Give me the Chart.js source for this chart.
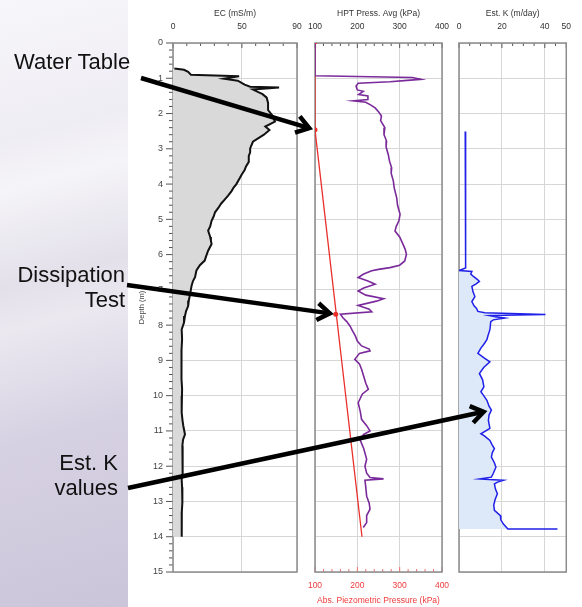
<!DOCTYPE html>
<html>
<head>
<meta charset="utf-8">
<script src="https://cdn.jsdelivr.net/npm/chart.js@4.4.1/dist/chart.umd.min.js"></script>
<style>
  html, body { margin: 0; padding: 0; }
  body { width: 582px; height: 607px; position: relative; overflow: hidden; background: #fff;
         font-family: "Liberation Sans", Arial, sans-serif; }
  #slide { position: absolute; left: 0; top: 0; width: 128px; height: 607px;
           background: linear-gradient(165deg, #f7f6fa 0%, #efedf4 22%, #f5f4f8 30%, #e3e0ea 45%, #ebe8f0 52%, #d6d1e2 70%, #cbc5da 100%); }
  canvas { position: absolute; left: 0; top: 0; }
  .note { position: absolute; font-size: 22px; line-height: 25px; color: #111; text-align: right; white-space: nowrap; }
</style>
</head>
<body>
<div id="slide"></div>
<canvas id="ec" width="582" height="607"></canvas>
<canvas id="hpt" width="582" height="607"></canvas>
<canvas id="k" width="582" height="607"></canvas>
<canvas id="arrows" width="582" height="607"></canvas>
<div class="note" style="left:14px; top:49px;">Water Table</div>
<div class="note" style="right:457px; top:262px;">Dissipation<br>Test</div>
<div class="note" style="right:464px; top:450px;">Est. K<br>values</div>
<script>
// electrical conductivity log
const ecDepth = [0.72,0.76,0.82,0.90,0.94,1.01,1.07,1.18,1.24,1.26,1.32,1.45,1.55,1.70,1.90,2.05,2.23,2.37,2.47,2.60,
  2.80,2.99,3.10,3.20,3.37,3.50,3.60,3.72,3.83,4.00,4.10,4.20,4.33,4.44,4.55,4.67,4.80,4.92,5.04,5.20,
  5.32,5.50,5.60,5.70,5.89,6.05,6.17,6.30,6.45,6.64,6.75,6.88,7.10,7.30,7.46,7.60,7.74,7.93,8.12,8.40,
  8.70,9.00,9.30,9.53,9.80,10.00,10.25,10.48,10.70,10.86,11.10,11.25,11.42,11.70,11.99,12.20,12.37,12.60,13.03,13.30,
  13.50,13.75,14.00]
const ecValue = [1,8,11,13,48,37,47,52,56,77,58,65,68,69,69,72,74,67,70,66,
  58,56,56,55,55,53,52,50,48.5,46,44,42.5,40,37.5,35,33,30.5,29.5,28,27,
  25.5,27,27.5,28,25.5,24,23,19.5,17,16,14.5,13.5,12.5,11.5,11,9.5,8.7,8,6.3,6.6,
  6.2,6.3,6.0,6.2,6.6,6.5,6.3,6.3,6.9,7.5,8.7,7.3,6.8,7.0,7.2,6.8,6.3,6.6,6.8,6.4,
  6.2,6.5,6.3]

// HPT pressure log
const hptDepth = [0.02,0.93,0.98,1.03,1.06,1.10,1.14,1.22,1.33,1.37,1.46,1.50,1.60,1.64,1.68,1.76,1.84,1.95,2.07,2.20,
  2.40,2.60,2.78,2.95,3.16,3.35,3.54,3.70,3.91,4.10,4.39,4.60,4.86,5.05,5.20,5.33,5.50,5.71,5.85,5.99,
  6.18,6.30,6.37,6.42,6.46,6.55,6.65,6.75,6.84,6.95,7.03,7.15,7.25,7.32,7.44,7.55,7.62,7.69,7.79,7.90,
  8.03,8.15,8.30,8.45,8.59,8.68,8.73,8.80,8.97,9.10,9.25,9.45,9.65,9.82,9.95,10.20,10.45,10.67,10.85,11.00,
  11.10,11.24,11.50,11.80,12.00,12.20,12.32,12.36,12.40,12.60,12.85,13.05,13.22,13.40,13.60,13.74]
const hptPress = [100,100,330,350,318,277,202,197,200,214,203,225,225,190,220,232,242,250,257,255,
  265,263,269,268,273,276,281,280,285,287,293,295,301,298,292,289,300,308,313,316,
  312,300,277,250,234,215,202,225,242,215,202,220,262,245,202,228,234,160,166,175,
  183,188,195,200,210,228,230,205,194,205,210,215,220,226,212,202,207,210,222,230,
  215,206,215,222,218,222,230,262,218,220,222,228,230,222,222,214]

// absolute piezometric pressure (hydrostatic line) and its two fixed points
const piezoDepth = [0.0, 0.03, 2.46, 14.0]
const piezoPress = [104, 100, 100, 211]
const markDepth = [2.46, 7.69]
const markPress = [100, 149]

// estimated hydraulic conductivity
const kUpperDepth = [2.51,3.00,3.50,4.00,4.45,5.00,5.50,6.00,6.38,6.45]
const kUpperValue = [2.9,3.0,3.1,3.0,3.2,3.1,3.0,3.1,3.2,0]
const kLowerDepth = [6.45,6.48,6.55,6.62,6.70,6.76,6.83,6.90,7.05,7.19,7.33,7.45,7.52,7.61,7.65,7.70,7.73,7.76,7.80,7.85,
  7.90,8.13,8.30,8.41,8.55,8.65,8.80,8.92,9.04,9.20,9.37,9.55,9.75,9.89,10.00,10.13,10.30,10.41,10.55,10.70,
  10.93,11.08,11.15,11.27,11.40,11.50,11.62,11.74,11.90,12.03,12.20,12.31,12.36,12.38,12.40,12.45,12.50,12.65,12.78,12.95,
  13.10,13.25,13.40,13.52,13.64,13.78,13.78]
const kLowerValue = [0,6,5.5,6.7,8.5,9.5,8,6,6.5,7.4,6,7,8.1,8.8,12,40.3,14.4,17,21.4,16,
  14.8,14.4,13.5,13,11.5,10.2,8.8,11.5,14.4,11.5,9.5,11,11.6,10.2,11.5,13,14,15.1,14,13.7,
  14.4,10.2,12,14.4,15.5,16.5,15.5,15.1,16.5,17.2,16,15.1,9.5,14,20.7,18,16.5,17,17.9,16.8,
  16.2,16.5,19.3,19.5,20.7,22.8,45.9]

const ecTicks = [0, 50, 90]
const hptTicks = [100, 200, 300, 400]
const kTicks = [0, 20, 40, 50]

const pts = (d, v) => d.map((y, i) => ({ x: v[i], y }))

Chart.defaults.font.family = '"Liberation Sans", Arial, sans-serif'

// frame around each plot plus the short tick marks along its edges
const axisFrame = {
  id: 'axisFrame',
  beforeDatasetsDraw(chart, args, opts) {
    const { ctx, chartArea: a } = chart
    ctx.save()
    ctx.lineWidth = 1
    for (const m of opts.marks) {
      const s = chart.scales[m.scale]
      ctx.strokeStyle = m.color
      for (let k = 0; s.min + k * m.step <= s.max + 1e-9; k++) {
        const v = s.min + k * m.step
        const len = m.major.some(t => Math.abs(t - v) < 1e-6) ? m.long : m.short
        const p = s.getPixelForValue(v)
        ctx.beginPath()
        if (m.side === 'left') { ctx.moveTo(a.left - len, p); ctx.lineTo(a.left, p) }
        else if (m.side === 'top') { ctx.moveTo(p, a.top); ctx.lineTo(p, a.top + len) }
        else { ctx.moveTo(p, a.bottom); ctx.lineTo(p, a.bottom - len) }
        ctx.stroke()
      }
    }
    ctx.strokeStyle = '#8c8c8c'
    ctx.lineWidth = 1.5
    ctx.strokeRect(a.left, a.top, a.right - a.left, a.bottom - a.top)
    ctx.restore()
  }
}

function depthScale(labelled) {
  return {
    type: 'linear', position: 'left', reverse: true, min: 0, max: 15,
    ticks: { display: labelled, stepSize: 1, padding: 10, color: '#444', font: { size: 9 }, autoSkip: false },
    grid: { color: '#d6d6d6', drawTicks: false },
    border: { display: false },
    title: { display: labelled, text: 'Depth (m)', color: '#444', font: { size: 7.5 }, padding: 9 },
    afterFit: s => { s.width = labelled ? 45 : 0 }
  }
}

function valueScale(pos, min, max, ticks, title, color, grid) {
  return {
    type: 'linear', position: pos, min, max,
    afterBuildTicks: s => { s.ticks = ticks.map(v => ({ value: v })) },
    ticks: { padding: pos === 'top' ? 11 : 9, color, font: { size: 8.5 }, maxRotation: 0, autoSkip: false },
    grid: { display: grid, color: '#d6d6d6', drawTicks: false },
    border: { display: false },
    title: { display: true, text: title, color, font: { size: 8.5 }, padding: pos === 'top' ? 9 : 1 },
    afterFit: s => { s.height = pos === 'top' ? 43 : 35 }
  }
}

function options(pad, scales, marks) {
  return {
    indexAxis: 'y', responsive: false, animation: false,
    layout: { padding: pad, autoPadding: false },
    plugins: { legend: { display: false }, tooltip: { enabled: false }, axisFrame: { marks } },
    elements: { point: { radius: 0 }, line: { tension: 0 } },
    scales
  }
}

const ecChart = new Chart(document.getElementById('ec'), {
  type: 'line',
  data: {
    datasets: [{
      data: pts(ecDepth, ecValue), xAxisID: 'xTop', yAxisID: 'y',
      borderColor: '#111', borderWidth: 2, backgroundColor: '#d9d9d9', fill: 'origin'
    }]
  },
  options: options({ left: 128, right: 285, top: 0, bottom: 35 }, {
    xTop: valueScale('top', 0, 90, ecTicks, 'EC (mS/m)', '#333', true),
    y: depthScale(true)
  }, [
    { scale: 'y', side: 'left', step: 0.2, major: [0,1,2,3,4,5,6,7,8,9,10,11,12,13,14,15], long: 7, short: 4, color: '#555' },
    { scale: 'xTop', side: 'top', step: 10, major: ecTicks, long: 5, short: 3, color: '#555' }
  ]),
  plugins: [axisFrame]
})

const hptChart = new Chart(document.getElementById('hpt'), {
  type: 'line',
  data: {
    datasets: [
      { data: pts(hptDepth, hptPress), xAxisID: 'xTop', yAxisID: 'y', borderColor: '#7a2a9a', borderWidth: 1.6, fill: false },
      { data: pts(piezoDepth, piezoPress), xAxisID: 'xBot', yAxisID: 'y', borderColor: '#ea2f2a', borderWidth: 1.3, fill: false },
      { data: pts(markDepth, markPress), xAxisID: 'xBot', yAxisID: 'y', showLine: false,
        pointRadius: 2.5, pointBackgroundColor: '#ea2f2a', pointBorderWidth: 0 }
    ]
  },
  options: options({ left: 315, right: 140, top: 0, bottom: 0 }, {
    xTop: valueScale('top', 100, 400, hptTicks, 'HPT Press. Avg (kPa)', '#333', true),
    xBot: valueScale('bottom', 100, 400, hptTicks, 'Abs. Piezometric Pressure (kPa)', '#ef3b3b', false),
    y: depthScale(false)
  }, [
    { scale: 'xTop', side: 'top', step: 20, major: hptTicks, long: 5, short: 3, color: '#555' },
    { scale: 'xBot', side: 'bottom', step: 20, major: hptTicks, long: 5, short: 3, color: '#f07070' }
  ]),
  plugins: [axisFrame]
})

const kChart = new Chart(document.getElementById('k'), {
  type: 'line',
  data: {
    datasets: [
      { data: pts(kUpperDepth, kUpperValue), xAxisID: 'xTop', yAxisID: 'y', borderColor: '#2020e8', borderWidth: 1.5, fill: false },
      { data: pts(kLowerDepth, kLowerValue), xAxisID: 'xTop', yAxisID: 'y', borderColor: '#2020e8', borderWidth: 1.5,
        backgroundColor: '#dde9f8', fill: 'origin' }
    ]
  },
  options: options({ left: 459, right: 4, top: 0, bottom: 35 }, {
    xTop: valueScale('top', 0, 50, kTicks, 'Est. K (m/day)', '#333', true),
    y: depthScale(false)
  }, [
    { scale: 'xTop', side: 'top', step: 5, major: kTicks, long: 5, short: 3, color: '#555' }
  ]),
  plugins: [axisFrame]
})

// callout arrows, ending just short of the point they point at
function arrow(ctx, x0, y0, chart, xId, xv, yv, gap) {
  const tx = chart.scales[xId].getPixelForValue(xv)
  const ty = chart.scales.y.getPixelForValue(yv)
  const ang = Math.atan2(ty - y0, tx - x0)
  const x1 = tx - gap * Math.cos(ang)
  const y1 = ty - gap * Math.sin(ang)
  ctx.beginPath()
  ctx.moveTo(x0, y0)
  ctx.lineTo(x1, y1)
  ctx.stroke()
  ctx.beginPath()
  ctx.moveTo(x1 - 15 * Math.cos(ang - 0.6), y1 - 15 * Math.sin(ang - 0.6))
  ctx.lineTo(x1, y1)
  ctx.lineTo(x1 - 15 * Math.cos(ang + 0.6), y1 - 15 * Math.sin(ang + 0.6))
  ctx.stroke()
}

const actx = document.getElementById('arrows').getContext('2d')
actx.strokeStyle = '#000'
actx.lineWidth = 4.5
actx.lineJoin = 'miter'
arrow(actx, 141, 78, hptChart, 'xBot', markPress[0], markDepth[0], 6)
arrow(actx, 127, 285, hptChart, 'xBot', markPress[1], markDepth[1], 6)
arrow(actx, 128, 488, kChart, 'xTop', 15.1, 10.41, 8)
</script>
</body>
</html>
